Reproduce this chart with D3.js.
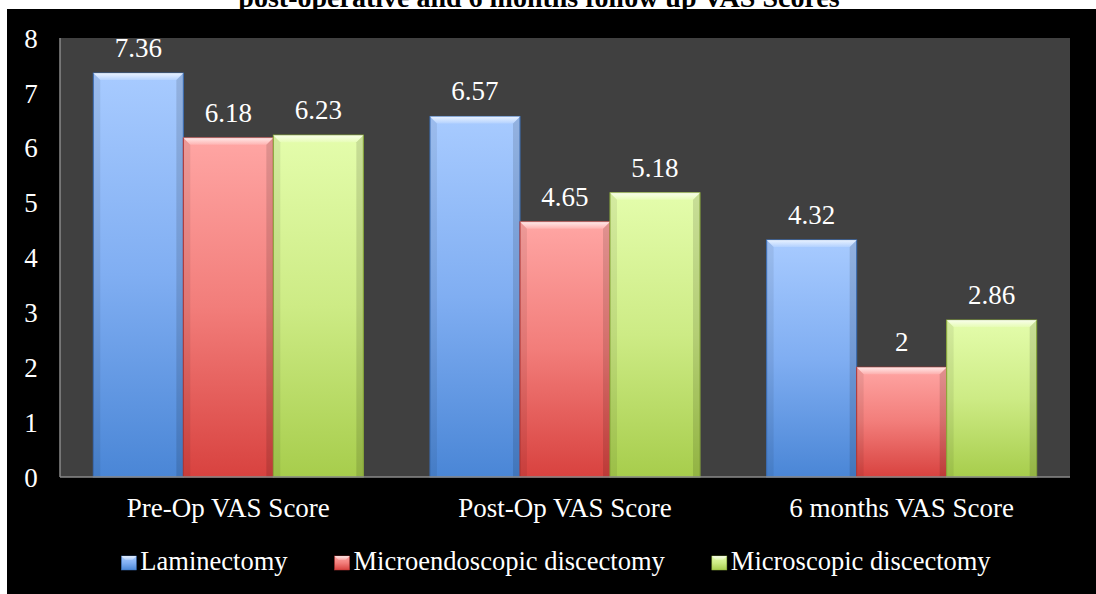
<!DOCTYPE html>
<html>
<head>
<meta charset="utf-8">
<script src="https://cdn.jsdelivr.net/npm/d3@7"></script>
<style>
  html, body { margin: 0; padding: 0; background: #fff; }
  svg { display: block; }
  text { font-family: "Liberation Serif", "Times New Roman", serif; }
</style>
</head>
<body>
<script>
const categories = ["Pre-Op VAS Score", "Post-Op VAS Score", "6 months VAS Score"];
const seriesNames = ["Laminectomy", "Microendoscopic discectomy", "Microscopic discectomy"];
const laminectomy = [7.36, 6.57, 4.32];
const microendoscopic = [6.18, 4.65, 2];
const microscopic = [6.23, 5.18, 2.86];
const yTickValues = [0, 1, 2, 3, 4, 5, 6, 7, 8];
const titleText = "post-operative and 6 months follow up VAS Scores";

const W = 1096, H = 594;
const plot = { left: 60, right: 1070, top: 38, bottom: 477 };
const FS = 27;
const LFS = 26.5;

const palette = [
  { top: "#a8cbff", mid: "#80aef2", bot: "#4a86d6", stroke: "#3d72bd" },
  { top: "#ffa6a4", mid: "#f27d7a", bot: "#d8423f", stroke: "#b93734" },
  { top: "#e4fdac", mid: "#cdeb85", bot: "#a7cd4c", stroke: "#8fb13c" }
];

const seriesValues = [laminectomy, microendoscopic, microscopic];

const svg = d3.select("body").append("svg").attr("width", W).attr("height", H);
const defs = svg.append("defs");
palette.forEach((p, i) => {
  const g = defs.append("linearGradient").attr("id", "g" + i)
    .attr("x1", 0).attr("y1", 0).attr("x2", 0).attr("y2", 1);
  g.append("stop").attr("offset", "0%").attr("stop-color", p.top);
  g.append("stop").attr("offset", "50%").attr("stop-color", p.mid);
  g.append("stop").attr("offset", "100%").attr("stop-color", p.bot);
});
const hl = defs.append("linearGradient").attr("id", "hl").attr("x1", 0).attr("y1", 0).attr("x2", 0).attr("y2", 1);
hl.append("stop").attr("offset", "0%").attr("stop-color", "#fff").attr("stop-opacity", 0.75);
hl.append("stop").attr("offset", "100%").attr("stop-color", "#fff").attr("stop-opacity", 0.15);

// white page + title strip (title is partly hidden, as in the reference)
svg.append("rect").attr("x", 0).attr("y", 0).attr("width", W).attr("height", H).attr("fill", "#fff");
svg.append("text").attr("x", 539).attr("y", 7)
  .attr("text-anchor", "middle").attr("font-size", 28).attr("font-weight", "bold")
  .attr("fill", "#000").text(titleText);
// black chart area
svg.append("rect").attr("x", 7).attr("y", 9).attr("width", W - 7).attr("height", H - 9).attr("fill", "#000");

// plot area
svg.append("rect").attr("x", plot.left).attr("y", plot.top)
  .attr("width", plot.right - plot.left).attr("height", plot.bottom - plot.top)
  .attr("fill", "#404040");

const y = d3.scaleLinear().domain([0, 8]).range([plot.bottom, plot.top]);
const x0 = d3.scaleBand().domain(categories).range([plot.left, plot.right])
  .paddingInner(0.198).paddingOuter(0.099);
const x1 = d3.scaleBand().domain(seriesNames).range([0, x0.bandwidth()]).padding(0);

// y axis labels
const yAxis = d3.axisLeft(y).tickValues(yTickValues).tickSize(0).tickPadding(0).tickFormat(d3.format("d"));
const yg = svg.append("g").attr("transform", `translate(${plot.left - 29},0)`).call(yAxis);
yg.select(".domain").remove();
yg.selectAll("text").attr("fill", "#fff").attr("font-size", FS)
  .attr("text-anchor", "middle").attr("dy", "0.34em");

// bars
const groups = svg.append("g").selectAll("g").data(categories).join("g")
  .attr("transform", d => `translate(${x0(d)},0)`);

groups.each(function (cat, ci) {
  const g = d3.select(this);
  seriesNames.forEach((s, si) => {
    const v = seriesValues[si][ci];
    const bx = x1(s), bw = x1.bandwidth();
    const by = y(v), bh = y(0) - y(v);
    const b = 7;
    g.append("rect").attr("x", bx).attr("y", by).attr("width", bw).attr("height", bh)
      .attr("fill", `url(#g${si})`).attr("stroke", palette[si].stroke).attr("stroke-width", 1);
    g.append("path").attr("d", `M${bx},${by}L${bx + b},${by + b}L${bx + b},${by + bh}L${bx},${by + bh}Z`)
      .attr("fill", "#000").attr("opacity", 0.07);
    g.append("path").attr("d", `M${bx + bw},${by}L${bx + bw - b},${by + b}L${bx + bw - b},${by + bh}L${bx + bw},${by + bh}Z`)
      .attr("fill", "#000").attr("opacity", 0.12);
    g.append("path").attr("d", `M${bx},${by}L${bx + bw},${by}L${bx + bw - b},${by + b}L${bx + b},${by + b}Z`)
      .attr("fill", "url(#hl)");
    g.append("text").attr("x", bx + bw / 2).attr("y", by - 16)
      .attr("text-anchor", "middle").attr("fill", "#fff").attr("font-size", FS)
      .text(String(v));
  });
});

// axis lines
svg.append("line").attr("x1", plot.left).attr("x2", plot.left).attr("y1", plot.top).attr("y2", plot.bottom)
  .attr("stroke", "#8a8a8a").attr("stroke-width", 1.5);
svg.append("line").attr("x1", plot.left).attr("x2", plot.right).attr("y1", plot.bottom).attr("y2", plot.bottom)
  .attr("stroke", "#8a8a8a").attr("stroke-width", 1.5);

// x axis labels
const xAxis = d3.axisBottom(x0).tickSize(0).tickPadding(0);
const xg = svg.append("g").attr("transform", `translate(0,${plot.bottom})`).call(xAxis);
xg.select(".domain").remove();
xg.selectAll("text").attr("fill", "#fff").attr("font-size", FS)
  .attr("dy", null).attr("y", 40);

// legend
const legend = svg.append("g");
let lx = 0;
const gap = 47;
seriesNames.forEach((s, i) => {
  const it = legend.append("g").attr("transform", `translate(${lx},0)`);
  it.append("rect").attr("x", 0).attr("y", -14).attr("width", 15).attr("height", 14)
    .attr("fill", `url(#g${i})`).attr("stroke", palette[i].stroke).attr("stroke-width", 0.5);
  it.append("path").attr("d", "M0,-14L15,-14L11,-10L4,-10Z").attr("fill", "url(#hl)");
  const t = it.append("text").attr("x", 19).attr("y", 0).attr("fill", "#fff").attr("font-size", LFS).text(s);
  lx += 19 + t.node().getComputedTextLength() + gap;
});
const totalW = lx - gap;
legend.attr("transform", `translate(${556 - totalW / 2},570)`);
</script>
</body>
</html>
